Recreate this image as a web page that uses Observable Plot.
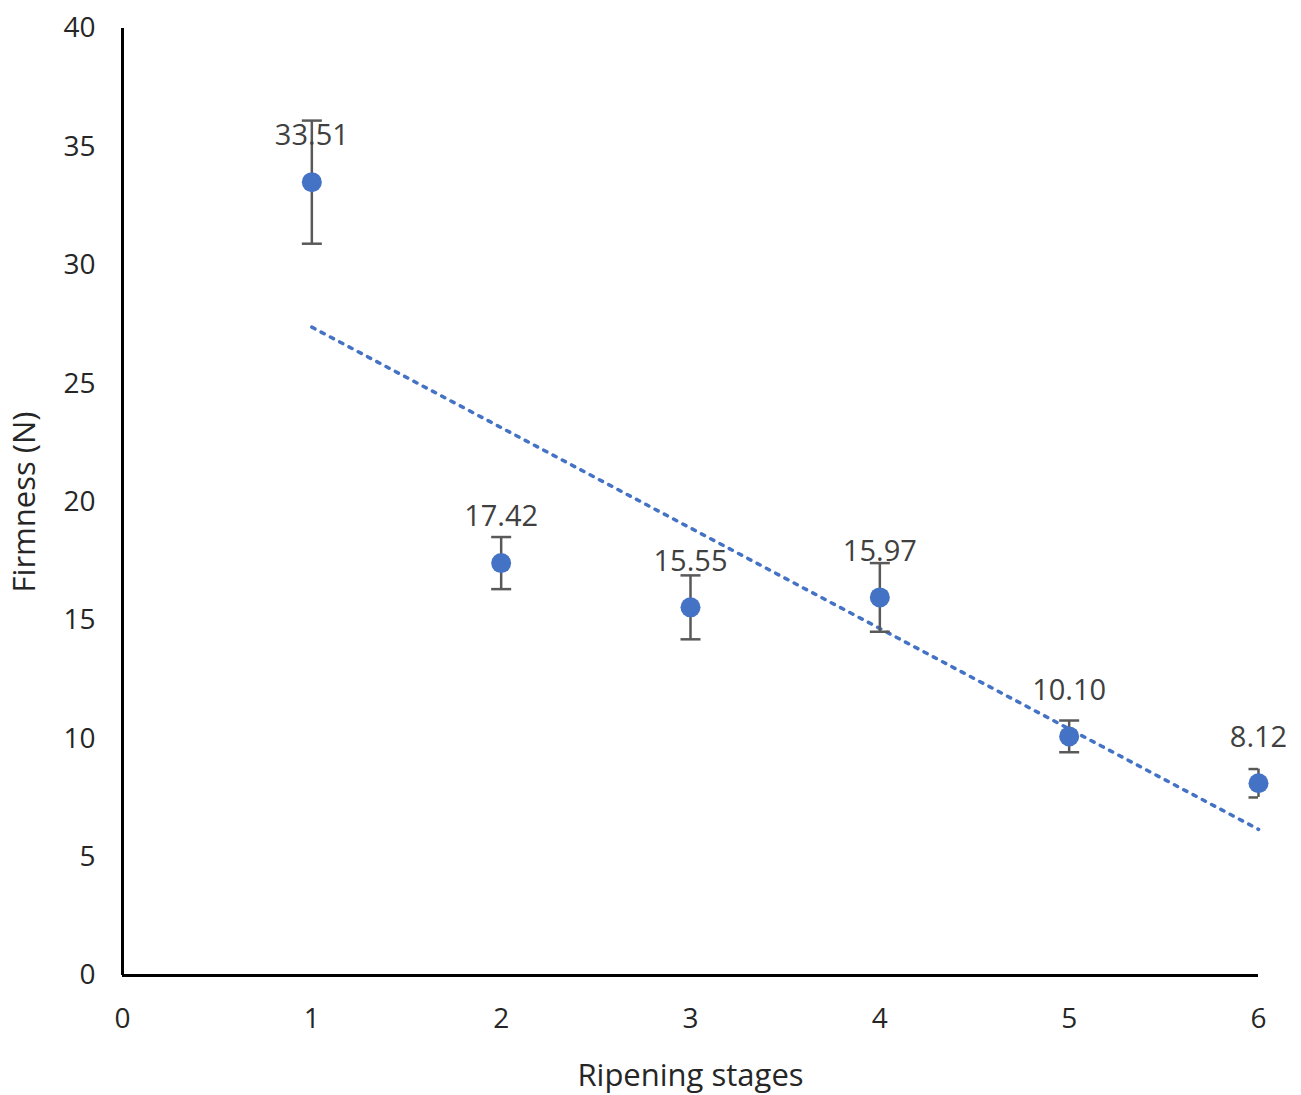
<!DOCTYPE html>
<html>
<head>
<meta charset="utf-8">
<script src="https://cdn.jsdelivr.net/npm/d3@7"></script>
<script src="https://cdn.jsdelivr.net/npm/@observablehq/plot@0.6"></script>
<style>
  html, body { margin: 0; padding: 0; background: #fff; }
  #chart svg { display: block; }
  #chart svg [aria-label="x-axis label"] text, #chart svg [aria-label="y-axis label"] text { font-size: 31px; }
</style>
</head>
<body>
<div id="chart"></div>
<script>
const stages = [1, 2, 3, 4, 5, 6];
const firmness = [33.51, 17.42, 15.55, 15.97, 10.10, 8.12];
const errors = [2.6, 1.1, 1.35, 1.45, 0.67, 0.6];
const labels = ["33.51", "17.42", "15.55", "15.97", "10.10", "8.12"];
const yTicks = [0, 5, 10, 15, 20, 25, 30, 35, 40];
const xTicks = [0, 1, 2, 3, 4, 5, 6];

const data = stages.map((s, i) => ({
  stage: s, value: firmness[i], lo: firmness[i] - errors[i], hi: firmness[i] + errors[i], label: labels[i]
}));

const font = "'Open Sans', 'Noto Sans', sans-serif";

// horizontal cap symbol for error bars
const capSymbol = {
  draw(ctx, size) {
    const w = Math.sqrt(size / Math.PI);
    ctx.moveTo(-w, 0);
    ctx.lineTo(w, 0);
  }
};

const chart = Plot.plot({
  width: 1301,
  height: 1095,
  marginLeft: 122,
  marginRight: 43,
  marginTop: 28,
  marginBottom: 120,
  style: { fontFamily: font, fontSize: "28px", color: "#262626", background: "#fff" },
  x: { type: "linear", domain: [0, 6] },
  y: { type: "linear", domain: [0, 40] },
  marks: [
    Plot.axisX({ ticks: xTicks, tickFormat: "d", tickSize: 0, tickPadding: 33, fontSize: 28, fill: "#262626", label: null }),
    Plot.axisY({ ticks: yTicks, tickFormat: "d", tickSize: 0, tickPadding: 27, fontSize: 28, fill: "#262626", label: null }),
    Plot.axisX({ ticks: [], tickSize: 0, fontSize: 31, fill: "#262626", label: "Ripening stages", labelAnchor: "center", labelArrow: "none", labelOffset: 110 }),
    Plot.axisY({ ticks: [], tickSize: 0, fontSize: 31, fill: "#262626", label: "Firmness (N)", labelAnchor: "center", labelArrow: "none", labelOffset: 110 }),
    Plot.linearRegressionY(data, { x: "stage", y: "value", stroke: "#4472C4", strokeWidth: 3.5, strokeDasharray: "3.5,7", ci: 0 }),
    Plot.ruleX(data, { x: "stage", y1: "lo", y2: "hi", stroke: "#595959", strokeWidth: 2.5 }),
    Plot.dot(data, { x: "stage", y: "lo", symbol: capSymbol, r: 10, stroke: "#595959", strokeWidth: 2.5, fill: "none", clip: true }),
    Plot.dot(data, { x: "stage", y: "hi", symbol: capSymbol, r: 10, stroke: "#595959", strokeWidth: 2.5, fill: "none", clip: true }),
    Plot.dot(data, { x: "stage", y: "value", r: 10, fill: "#4472C4", stroke: "none" }),
    Plot.text(data, { x: "stage", y: "value", text: "label", dy: -46, fontSize: 29, fill: "#404040" }),
    Plot.ruleX([0], { stroke: "#000", strokeWidth: 3 }),
    Plot.ruleY([0], { stroke: "#000", strokeWidth: 3 })
  ]
});
document.getElementById("chart").appendChild(chart);
</script>
</body>
</html>
